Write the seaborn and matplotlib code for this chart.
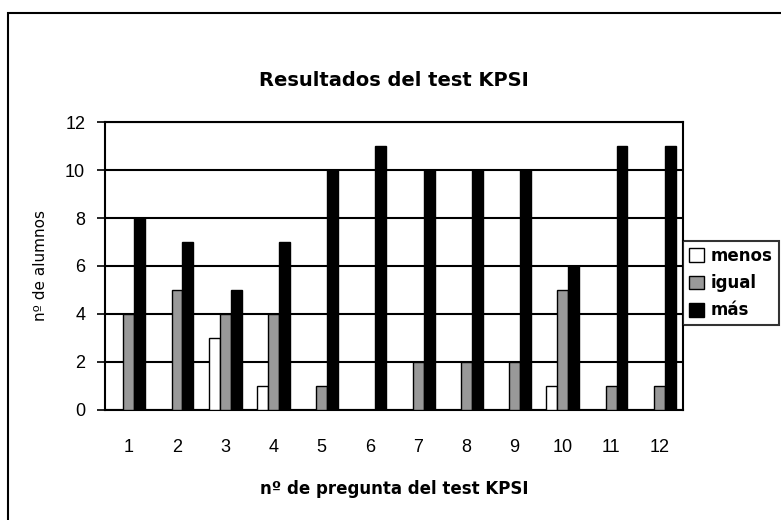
import numpy as np
import pandas as pd
import matplotlib.pyplot as plt
import seaborn as sns
from matplotlib.patches import Rectangle

preguntas = [str(i) for i in range(1, 13)]
menos = [0, 0, 3, 1, 0, 0, 0, 0, 0, 1, 0, 0]
igual = [4, 5, 4, 4, 1, 0, 2, 2, 2, 5, 1, 1]
mas = [8, 7, 5, 7, 10, 11, 10, 10, 10, 6, 11, 11]
series = ["menos", "igual", "más"]
colores = ["#ffffff", "#999999", "#000000"]

df = pd.DataFrame({"pregunta": preguntas * 3,
                   "serie": ["menos"] * 12 + ["igual"] * 12 + ["más"] * 12,
                   "valor": menos + igual + mas})

sns.set_style("white")
plt.rcParams["font.family"] = ["Liberation Sans", "DejaVu Sans"]
plt.rcParams.update({"text.color": "black", "axes.labelcolor": "black",
                     "xtick.color": "black", "ytick.color": "black"})
WIDE = ["DejaVu Sans"]

fig = plt.figure(figsize=(7.81, 5.20), dpi=100)
ax = fig.add_axes([0.134, 0.212, 0.741, 0.553])

sns.barplot(data=df, x="pregunta", y="valor", hue="serie", hue_order=series,
            palette=colores, width=0.68, edgecolor="black", linewidth=1,
            saturation=1, ax=ax, zorder=3)

ax.set_ylim(0, 12)
ax.set_yticks(range(0, 13, 2))
ax.set_xlim(-0.5, 11.5)
ax.grid(axis="y", color="black", linewidth=1.5, zorder=0)
for s in ax.spines.values():
    s.set_color("black")
    s.set_linewidth(1.5)

# ticks between categories, like the original spreadsheet chart
ax.set_xticks(np.arange(12))
ax.set_xticks(np.arange(-0.5, 12, 1), minor=True)
ax.tick_params(axis="x", which="major", length=0, pad=21, labelsize=13)
ax.tick_params(axis="x", which="minor", length=6, width=1.2, direction="out")
ax.tick_params(axis="y", length=6, width=1.2, direction="out", labelsize=13, pad=8)
ax.tick_params(axis="both", colors="black", left=True, bottom=True)

ax.set_title("Resultados del test KPSI", fontsize=14, fontweight="bold",
             family=WIDE, pad=26, color="black")
ax.set_xlabel("nº de pregunta del test KPSI", fontsize=12, fontweight="bold",
              family=WIDE, labelpad=17)
ax.set_ylabel("nº de alumnos", fontsize=11, family=WIDE, labelpad=12)

leg = ax.legend(title=None, loc="center left", bbox_to_anchor=(1.0, 0.44),
                frameon=True, fancybox=False, edgecolor="black",
                prop={"weight": "bold", "size": 12, "family": WIDE},
                handlelength=0.9, handleheight=0.9, handletextpad=0.4,
                labelspacing=0.55, borderpad=0.35, borderaxespad=0.0)
leg.get_frame().set_linewidth(1.5)

# outer chart frame (right and bottom sides fall outside the crop)
fig.patches.append(Rectangle((0.01, -0.05), 1.1, 1.025, transform=fig.transFigure,
                             fill=False, edgecolor="black", linewidth=1.5))

fig.savefig("out.png", dpi=100)
